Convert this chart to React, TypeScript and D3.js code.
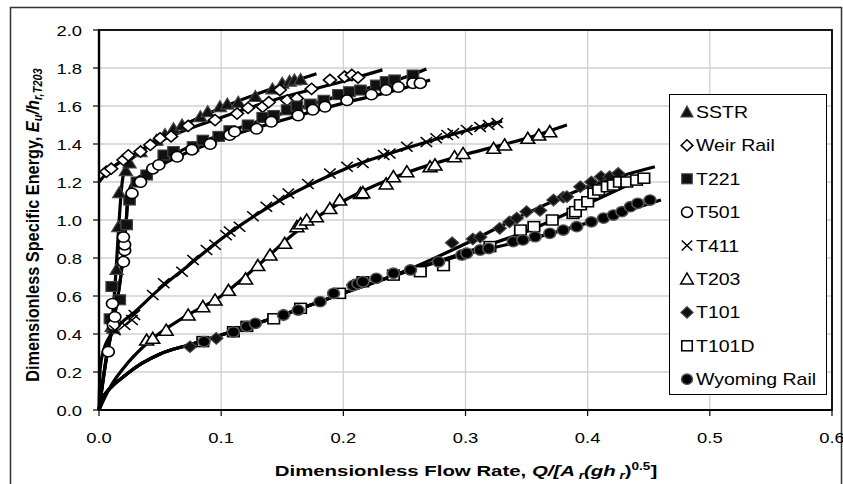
import React from 'react';
import * as d3 from 'd3';

type P = [number, number];

const xTicks = [0, 0.1, 0.2, 0.3, 0.4, 0.5, 0.6];
const yTicks = [0, 0.2, 0.4, 0.6, 0.8, 1.0, 1.2, 1.4, 1.6, 1.8, 2.0];
const seriesNames = ['SSTR', 'Weir Rail', 'T221', 'T501', 'T411', 'T203', 'T101', 'T101D', 'Wyoming Rail'];
const markerKinds = ['triFill', 'diaOpen', 'sqFill', 'circOpen', 'cross', 'triOpen', 'diaFill', 'sqOpen', 'circFill'];

const sstr: P[] = [[0.0104,0.44],[0.0117,0.43],[0.0144,0.74],[0.0158,0.965],[0.0166,1.144],[0.022,1.26],[0.025,1.30],[0.034,1.36],[0.047,1.42],[0.054,1.45],[0.061,1.48],[0.068,1.50],[0.083,1.544],[0.089,1.57],[0.099,1.596],[0.105,1.61],[0.114,1.62],[0.128,1.65],[0.142,1.69],[0.150,1.72],[0.156,1.73],[0.160,1.737],[0.165,1.74]];
const weirRail: P[] = [[0.006,1.254],[0.010,1.27],[0.020,1.316],[0.024,1.34],[0.034,1.36],[0.042,1.395],[0.050,1.43],[0.059,1.44],[0.073,1.495],[0.095,1.526],[0.113,1.56],[0.122,1.59],[0.134,1.596],[0.139,1.62],[0.148,1.684],[0.154,1.63],[0.162,1.64],[0.174,1.69],[0.189,1.737],[0.201,1.754],[0.207,1.763],[0.212,1.75]];
const t221: P[] = [[0.009,0.48],[0.0104,0.65],[0.017,0.58],[0.0226,0.975],[0.025,1.105],[0.031,1.20],[0.039,1.237],[0.053,1.342],[0.061,1.36],[0.077,1.386],[0.085,1.42],[0.098,1.44],[0.107,1.47],[0.122,1.50],[0.134,1.54],[0.143,1.55],[0.154,1.58],[0.162,1.60],[0.173,1.61],[0.184,1.63],[0.196,1.66],[0.205,1.675],[0.214,1.684],[0.227,1.71],[0.235,1.728],[0.242,1.737],[0.257,1.763]];
const t501: P[] = [[0.0076,0.307],[0.011,0.56],[0.0117,0.447],[0.013,0.49],[0.020,0.78],[0.021,0.84],[0.021,0.87],[0.020,0.91],[0.027,1.14],[0.034,1.20],[0.044,1.27],[0.049,1.29],[0.064,1.333],[0.076,1.37],[0.091,1.40],[0.107,1.447],[0.111,1.465],[0.129,1.48],[0.141,1.517],[0.163,1.55],[0.175,1.58],[0.185,1.596],[0.203,1.63],[0.223,1.66],[0.235,1.684],[0.245,1.70],[0.257,1.72],[0.263,1.72]];
const t411: P[] = [[0.013,0.42],[0.021,0.447],[0.027,0.474],[0.029,0.50],[0.044,0.605],[0.053,0.667],[0.068,0.728],[0.077,0.79],[0.088,0.842],[0.095,0.87],[0.104,0.92],[0.107,0.94],[0.115,0.965],[0.126,1.02],[0.137,1.07],[0.147,1.105],[0.155,1.14],[0.171,1.19],[0.189,1.245],[0.203,1.28],[0.216,1.30],[0.233,1.342],[0.238,1.35],[0.252,1.386],[0.268,1.41],[0.276,1.43],[0.285,1.447],[0.290,1.456],[0.301,1.474],[0.312,1.49],[0.319,1.50],[0.326,1.51]];
const t203: P[] = [[0.039,0.368],[0.044,0.377],[0.055,0.42],[0.073,0.50],[0.085,0.544],[0.095,0.579],[0.106,0.63],[0.120,0.69],[0.130,0.76],[0.140,0.816],[0.152,0.877],[0.162,0.965],[0.165,0.98],[0.170,1.0],[0.178,1.017],[0.189,1.06],[0.197,1.105],[0.214,1.14],[0.216,1.144],[0.235,1.19],[0.241,1.228],[0.252,1.254],[0.271,1.28],[0.275,1.29],[0.291,1.333],[0.298,1.35],[0.323,1.377],[0.332,1.395],[0.351,1.43],[0.360,1.447],[0.369,1.465]];
const t101: P[] = [[0.0745,0.333],[0.096,0.377],[0.151,0.50],[0.208,0.658],[0.289,0.88],[0.306,0.90],[0.312,0.91],[0.328,0.956],[0.336,0.99],[0.342,1.01],[0.350,1.044],[0.361,1.05],[0.372,1.105],[0.380,1.12],[0.383,1.123],[0.394,1.175],[0.403,1.20],[0.411,1.228],[0.418,1.228],[0.425,1.245]];
const t101d: P[] = [[0.085,0.36],[0.110,0.412],[0.121,0.44],[0.143,0.48],[0.165,0.535],[0.197,0.614],[0.216,0.675],[0.241,0.71],[0.263,0.728],[0.282,0.76],[0.320,0.86],[0.345,0.947],[0.356,0.965],[0.371,1.0],[0.388,1.035],[0.390,1.044],[0.394,1.08],[0.400,1.096],[0.405,1.14],[0.409,1.158],[0.416,1.175],[0.421,1.184],[0.426,1.20],[0.432,1.20],[0.440,1.21],[0.446,1.22]];
const wyomingRail: P[] = [[0.086,0.36],[0.110,0.41],[0.121,0.44],[0.128,0.456],[0.151,0.50],[0.163,0.526],[0.181,0.57],[0.192,0.614],[0.208,0.655],[0.212,0.665],[0.216,0.675],[0.227,0.693],[0.241,0.72],[0.255,0.737],[0.278,0.78],[0.297,0.816],[0.301,0.825],[0.312,0.842],[0.319,0.85],[0.339,0.886],[0.347,0.895],[0.357,0.912],[0.369,0.93],[0.380,0.947],[0.391,0.965],[0.403,0.99],[0.413,1.01],[0.421,1.026],[0.428,1.044],[0.435,1.07],[0.441,1.088],[0.451,1.105]];

// fitted trend curves, nodes
const fitSSTR: P[] = [[0,0],[0.006,0.28],[0.0105,0.45],[0.014,0.74],[0.0165,1.0],[0.019,1.2],[0.022,1.28],[0.03,1.34],[0.05,1.43],[0.1,1.59],[0.15,1.71],[0.178,1.77]];
const fitWeir: P[] = [[0,1.2],[0.01,1.27],[0.03,1.35],[0.06,1.445],[0.1,1.54],[0.15,1.645],[0.2,1.73],[0.232,1.79]];
const fitT221: P[] = [[0,0],[0.006,0.27],[0.0117,0.46],[0.0185,0.74],[0.022,0.97],[0.024,1.14],[0.028,1.2],[0.04,1.25],[0.05,1.30],[0.1,1.45],[0.15,1.56],[0.2,1.66],[0.25,1.75],[0.268,1.795]];
const fitT501: P[] = [[0,0],[0.006,0.27],[0.0117,0.46],[0.0185,0.74],[0.022,0.97],[0.024,1.13],[0.028,1.19],[0.05,1.285],[0.1,1.425],[0.15,1.525],[0.2,1.615],[0.25,1.695],[0.271,1.737]];
const fitT411: P[] = [[0,0],[0.001,0.22],[0.004,0.32],[0.013,0.42],[0.03,0.52],[0.05,0.64],[0.075,0.77],[0.1,0.90],[0.15,1.11],[0.2,1.265],[0.25,1.375],[0.3,1.47],[0.33,1.52]];
const fitT203: P[] = [[0,0],[0.01,0.13],[0.02,0.22],[0.04,0.355],[0.07,0.49],[0.1,0.6],[0.13,0.76],[0.16,0.93],[0.2,1.1],[0.25,1.245],[0.3,1.345],[0.35,1.43],[0.383,1.50]];
const fitT101: P[] = [[0,0],[0.003,0.06],[0.01,0.12],[0.02,0.175],[0.035,0.245],[0.05,0.295],[0.075,0.345],[0.1,0.395],[0.15,0.50],[0.2,0.615],[0.25,0.73],[0.3,0.875],[0.35,1.035],[0.4,1.175],[0.455,1.28]];
const fitT101D: P[] = [[0,0],[0.003,0.06],[0.01,0.12],[0.02,0.175],[0.035,0.245],[0.05,0.295],[0.075,0.345],[0.1,0.395],[0.15,0.50],[0.2,0.615],[0.25,0.725],[0.3,0.83],[0.35,0.94],[0.4,1.085],[0.45,1.235]];
const fitWyoming: P[] = [[0,0],[0.003,0.06],[0.01,0.12],[0.02,0.175],[0.035,0.245],[0.05,0.295],[0.075,0.345],[0.1,0.395],[0.15,0.50],[0.2,0.615],[0.25,0.725],[0.3,0.82],[0.35,0.895],[0.4,0.985],[0.46,1.105]];

const seriesData = [sstr, weirRail, t221, t501, t411, t203, t101, t101d, wyomingRail];
const fits = [fitSSTR, fitWeir, fitT221, fitT501, fitT411, fitT203, fitT101, fitT101D, fitWyoming];

const W = 843, H = 484;
const PL = 99, PR = 832, PT = 30, PB = 410;
const FONT = 'Liberation Sans, Arial, Helvetica, sans-serif';

const x = d3.scaleLinear().domain([0, 0.6]).range([PL, PR]);
const y = d3.scaleLinear().domain([0, 2]).range([PB, PT]);
const line = d3.line<P>().x(d => x(d[0])).y(d => y(d[1])).curve(d3.curveMonotoneX);

function Marker({ kind, cx, cy, sx = 1.15 }: { kind: string; cx: number; cy: number; sx?: number }) {
  const tf = `translate(${cx},${cy}) scale(${sx},1)`;
  switch (kind) {
    case 'triFill':
      return <path transform={tf} d="M0,-6L5.8,5L-5.8,5Z" fill="#111" stroke="#444" strokeWidth={1.1} />;
    case 'triOpen':
      return <path transform={tf} d="M0,-6L6,5L-6,5Z" fill="#fff" stroke="#000" strokeWidth={1.5} />;
    case 'diaOpen':
      return <path transform={tf} d="M0,-5.6L5.6,0L0,5.6L-5.6,0Z" fill="#fff" stroke="#000" strokeWidth={1.5} />;
    case 'diaFill':
      return <path transform={tf} d="M0,-5.8L5.8,0L0,5.8L-5.8,0Z" fill="#111" stroke="#444" strokeWidth={1.1} />;
    case 'sqFill':
      return <rect transform={tf} x={-5} y={-5} width={10} height={10} fill="#111" stroke="#444" strokeWidth={1.1} />;
    case 'sqOpen':
      return <rect transform={tf} x={-5} y={-5} width={10} height={10} fill="#fff" stroke="#000" strokeWidth={1.5} />;
    case 'circOpen':
      return <circle transform={tf} r={5.2} fill="#fff" stroke="#000" strokeWidth={1.5} />;
    case 'circFill':
      return <circle transform={tf} r={5.2} fill="#000" stroke="#555" strokeWidth={1.4} />;
    case 'cross':
      return <path transform={tf} d="M-5,-5L5,5M-5,5L5,-5" fill="none" stroke="#000" strokeWidth={1.4} />;
    default:
      return null;
  }
}

function ST({ x: tx, y: ty, sx = 1.27, anchor = 'start', size = 14, weight = 'normal', children }: any) {
  return (
    <text transform={`translate(${tx},${ty}) scale(${sx},1)`} textAnchor={anchor} fontSize={size}
      fontWeight={weight} fontFamily={FONT} fill="#000">{children}</text>
  );
}

export default function App() {
  const legX = 669, legY = 94, legW = 157, legH = 300;
  const legStep = 33.4;
  return (
    <svg width={W} height={H} style={{ position: 'absolute', left: 0, top: 0, background: '#fff' }}>
      <rect x={0} y={0} width={W} height={H} fill="#fff" />
      <rect x={10.5} y={7.5} width={831} height={480} fill="none" stroke="#333" strokeWidth={1.5} />
      {/* gridlines */}
      {xTicks.slice(1).map(t => (
        <line key={'gx' + t} x1={x(t)} x2={x(t)} y1={PT} y2={PB} stroke="#d0d0d0" strokeWidth={1.3} />
      ))}
      {yTicks.slice(1).map(t => (
        <line key={'gy' + t} x1={PL} x2={PR} y1={y(t)} y2={y(t)} stroke="#d0d0d0" strokeWidth={1.3} />
      ))}
      {/* plot frame */}
      <rect x={PL} y={PT} width={PR - PL} height={PB - PT} fill="none" stroke="#000" strokeWidth={1.8} />
      <line x1={PL} x2={PL} y1={PT} y2={PB} stroke="#000" strokeWidth={2.4} />
      <line x1={PL} x2={PR} y1={PB} y2={PB} stroke="#000" strokeWidth={2} />
      {/* ticks */}
      {yTicks.map(t => (
        <g key={'ty' + t}>
          <line x1={PL - 6} x2={PL} y1={y(t)} y2={y(t)} stroke="#000" strokeWidth={1.2} />
          <ST x={82} y={y(t) + 6} anchor="end" size={14.5}>{t.toFixed(1)}</ST>
        </g>
      ))}
      {xTicks.map(t => (
        <g key={'tx' + t}>
          <line x1={x(t)} x2={x(t)} y1={PB} y2={PB + 6} stroke="#000" strokeWidth={1.2} />
          <ST x={x(t)} y={443} anchor="middle" size={14.5}>{t.toFixed(1)}</ST>
        </g>
      ))}
      {/* fitted curves */}
      {fits.map((f, i) => (
        <path key={'fit' + i} d={line(f) || ''} fill="none" stroke="#000" strokeWidth={3.2} strokeLinejoin="round" strokeLinecap="butt" />
      ))}
      {/* markers */}
      {seriesData.map((s, i) => (
        <g key={'s' + i}>
          {s.map((d, j) => (
            <Marker key={j} kind={markerKinds[i]} cx={x(d[0])} cy={y(d[1])} />
          ))}
        </g>
      ))}
      {/* legend */}
      <rect x={legX + 0.5} y={legY + 0.5} width={legW} height={legH} fill="#fff" stroke="#000" strokeWidth={1} />
      {seriesNames.map((n, i) => {
        const cy = legY + 18 + i * legStep;
        return (
          <g key={'leg' + i}>
            <Marker kind={markerKinds[i]} cx={687} cy={cy} sx={1.05} />
            <ST x={696} y={cy + 6} size={16} sx={1.22}>{n}</ST>
          </g>
        );
      })}
      {/* axis titles */}
      <ST x={466} y={476} anchor="middle" size={15} weight="bold" sx={1.36}>
        Dimensionless Flow Rate, <tspan fontStyle="italic">Q/[A</tspan>
        <tspan fontStyle="italic" fontSize={10} dy={3}> r</tspan>
        <tspan fontStyle="italic" dy={-3}>(gh</tspan>
        <tspan fontStyle="italic" fontSize={10} dy={3}> r</tspan>
        <tspan dy={-3}>)</tspan>
        <tspan fontSize={10} dy={-6}>0.5</tspan>
        <tspan dy={6}>]</tspan>
      </ST>
      <text transform={`translate(39,225) scale(1.1,1) rotate(-90)`} textAnchor="middle" fontSize={16.3}
        fontWeight="bold" fontFamily={FONT} fill="#000">
        Dimensionless Specific Energy, <tspan fontStyle="italic">E</tspan>
        <tspan fontStyle="italic" fontSize={11} dy={3}>u</tspan>
        <tspan fontStyle="italic" dy={-3}>/h</tspan>
        <tspan fontStyle="italic" fontSize={11} dy={3}>r,T203</tspan>
      </text>
    </svg>
  );
}
